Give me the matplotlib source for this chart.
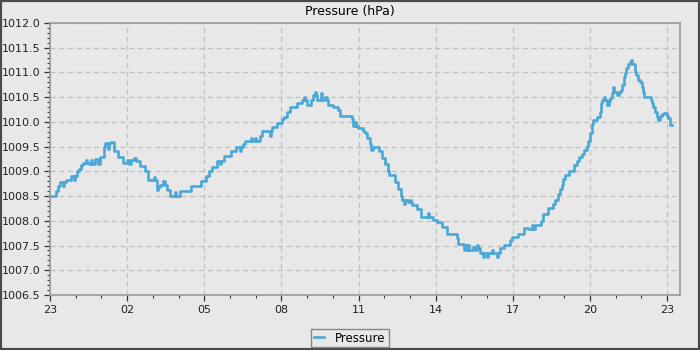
import numpy as np
import pandas as pd
import matplotlib
matplotlib.use("Agg")
import matplotlib.pyplot as plt
import matplotlib.dates as mdates
from matplotlib.ticker import MultipleLocator

# Hours since 23:00 and barometer readings (hPa)
hours = [
    0.00, 0.12, 0.23, 0.31, 0.39, 0.51, 0.54, 0.62, 0.82, 0.93, 0.97, 1.05, 1.13, 1.21, 1.28,
    1.40, 1.44, 1.52, 1.59, 1.63, 1.75, 1.87, 1.94, 2.10, 2.14, 2.26, 2.29, 2.37, 2.49, 2.64,
    2.84, 3.00, 3.07, 3.15, 3.27, 3.34, 3.50, 3.69, 3.81, 4.04, 4.08, 4.16, 4.20, 4.28, 4.39,
    4.47, 4.55, 4.67, 4.86, 4.90, 5.05, 5.48, 5.87, 6.07,
    6.18, 6.30, 6.49, 6.61, 6.65, 6.77, 7.04, 7.23, 7.39, 7.43, 7.50, 7.58, 7.82, 7.85, 7.97,
    8.01, 8.17, 8.24, 8.55, 8.59, 8.63, 8.83, 9.02, 9.10, 9.21, 9.33, 9.60, 9.80, 9.88, 9.91,
    9.99, 10.15, 10.23, 10.30, 10.34, 10.38, 10.54, 10.58, 10.69, 10.77, 10.81, 11.00, 11.20,
    11.28, 11.74, 11.78, 11.86, 11.90, 11.98, 12.17,
    12.25, 12.33, 12.44, 12.48, 12.56, 12.79, 12.91, 13.03, 13.14, 13.18, 13.41, 13.53, 13.65,
    13.69, 13.76, 13.80, 13.92, 14.00, 14.04, 14.08, 14.27, 14.43, 14.70, 14.74, 14.89, 15.05,
    15.24, 15.44, 15.83, 15.86, 16.10, 16.18, 16.22, 16.26, 16.30, 16.45, 16.52, 16.60, 16.64,
    16.72, 16.84, 16.87, 17.00, 17.03, 17.19, 17.22, 17.38, 17.42, 17.50, 17.65, 17.89, 17.96,
    18.20, 18.43,
    18.59, 18.74, 18.78, 18.86, 19.09, 19.17, 19.36, 19.56, 19.63, 19.75, 19.83, 19.91, 19.95,
    20.02, 20.18, 20.37, 20.49, 20.57, 20.69, 20.76, 20.88, 20.92, 21.00, 21.07, 21.11, 21.27,
    21.38, 21.42, 21.46, 21.54, 21.58, 21.66, 21.73, 21.77, 21.85, 21.89, 21.93, 22.05, 22.12,
    22.20, 22.24, 22.32, 22.36, 22.39, 22.47, 22.55, 22.59, 22.63, 22.74, 22.78, 22.86, 22.94,
    23.02, 23.06, 23.09, 23.37, 23.41, 23.45, 23.53, 23.60, 23.64, 23.72, 23.80, 23.87, 23.99,
    24.03, 24.11, 24.18,
]
pressure = [
    1008.50, 1008.50, 1008.60, 1008.70, 1008.78, 1008.70, 1008.78, 1008.82, 1008.91, 1008.82,
    1008.91, 1009.00, 1009.05, 1009.12, 1009.17, 1009.22, 1009.17, 1009.14, 1009.22, 1009.14,
    1009.25, 1009.14, 1009.30, 1009.50, 1009.58, 1009.45, 1009.58, 1009.60, 1009.41, 1009.30,
    1009.17, 1009.22, 1009.14, 1009.22, 1009.28, 1009.20, 1009.10, 1009.00, 1008.82, 1008.88,
    1008.82, 1008.63, 1008.68, 1008.73, 1008.80, 1008.73, 1008.63, 1008.50, 1008.58, 1008.50,
    1008.60, 1008.70, 1008.80, 1008.91,
    1009.00, 1009.09, 1009.21, 1009.14, 1009.21, 1009.31, 1009.41, 1009.49, 1009.41, 1009.49,
    1009.56, 1009.61, 1009.68, 1009.61, 1009.68, 1009.61, 1009.71, 1009.81, 1009.71, 1009.81,
    1009.89, 1009.98, 1010.05, 1010.10, 1010.20, 1010.30, 1010.38, 1010.45, 1010.50, 1010.45,
    1010.35, 1010.45, 1010.55, 1010.60, 1010.55, 1010.45, 1010.58, 1010.45, 1010.50, 1010.45,
    1010.35, 1010.30, 1010.25, 1010.11, 1010.05, 1009.91, 1010.00, 1009.91, 1009.88, 1009.81,
    1009.78, 1009.68, 1009.55, 1009.43, 1009.49, 1009.41, 1009.28, 1009.15, 1009.01, 1008.93,
    1008.78, 1008.65, 1008.51, 1008.43, 1008.35, 1008.43, 1008.38, 1008.43, 1008.38, 1008.31,
    1008.23, 1008.08, 1008.15, 1008.08, 1008.01, 1007.98, 1007.88, 1007.73, 1007.65, 1007.53,
    1007.41, 1007.51, 1007.41, 1007.51, 1007.41, 1007.48, 1007.41, 1007.51, 1007.45, 1007.35,
    1007.27, 1007.35, 1007.27, 1007.35, 1007.41, 1007.35, 1007.27, 1007.35, 1007.45, 1007.51,
    1007.61, 1007.68, 1007.73, 1007.85,
    1007.84, 1007.92, 1007.84, 1007.92, 1008.00, 1008.14, 1008.25, 1008.35, 1008.42, 1008.54,
    1008.64, 1008.72, 1008.84, 1008.92, 1009.00, 1009.12, 1009.20, 1009.29, 1009.36, 1009.44,
    1009.52, 1009.61, 1009.78, 1009.95, 1010.04, 1010.10, 1010.21, 1010.38, 1010.45, 1010.50,
    1010.45, 1010.34, 1010.42, 1010.48, 1010.58, 1010.70, 1010.61, 1010.55, 1010.61, 1010.65,
    1010.75, 1010.90, 1010.98, 1011.10, 1011.17, 1011.22, 1011.26, 1011.18, 1011.00, 1010.95,
    1010.85, 1010.80, 1010.70, 1010.60, 1010.51, 1010.45, 1010.38, 1010.30, 1010.20, 1010.10,
    1010.03, 1010.11, 1010.15, 1010.19, 1010.12, 1010.08, 1009.94, 1009.94,
]

start = pd.Timestamp("2024-03-01 23:00")
times = start + pd.to_timedelta(hours, unit="h")

bg = "#e8e8e8"
line_color = "#4aa8d8"

fig = plt.figure(figsize=(7, 3.5), dpi=100, facecolor=bg)
ax = fig.add_axes([50 / 700, 1 - 295 / 350, 630 / 700, 272 / 350])
ax.set_facecolor(bg)

ax.plot(times, pressure, color=line_color, lw=1.9, drawstyle="steps-post", label="Pressure")

ax.set_xlim(start, start + pd.Timedelta(hours=24.5))
ax.set_ylim(1006.5, 1012.0)

ax.xaxis.set_major_locator(mdates.HourLocator(byhour=range(2, 24, 3)))
ax.xaxis.set_minor_locator(mdates.HourLocator())
ax.xaxis.set_major_formatter(mdates.DateFormatter("%H"))
ax.yaxis.set_major_locator(MultipleLocator(0.5))
ax.yaxis.set_minor_locator(MultipleLocator(0.1))
ax.yaxis.set_major_formatter(lambda v, p: f"{v:.1f}")

ax.grid(True, which="major", color="#c0c0c0", linestyle=(0, (4, 3)), linewidth=0.9)
for s in ax.spines.values():
    s.set_color("#999999")
    s.set_linewidth(1.2)
ax.tick_params(which="major", length=4, width=0.9, color="#333333", labelsize=8,
               labelcolor="#222222", pad=3)
ax.tick_params(which="minor", length=2.5, width=0.8, color="#333333")

fig.text(0.5, 1 - 11 / 350, "Pressure (hPa)", ha="center", va="center", fontsize=9)

leg = fig.legend(loc="center", bbox_to_anchor=(0.5, 1 - 338 / 350), fontsize=8.5,
                 handlelength=0.8, handletextpad=1.0, fancybox=False, framealpha=1,
                 borderpad=0.25, borderaxespad=0)
leg.get_frame().set_facecolor(bg)
leg.get_frame().set_edgecolor("#888888")
leg.get_frame().set_linewidth(1.0)

# dark frame around the whole image
fig.add_artist(plt.Rectangle((0, 0), 1, 1, transform=fig.transFigure, fill=False,
                             edgecolor="#4a4a4a", linewidth=3))

fig.savefig("out.png", dpi=100, facecolor=bg)
